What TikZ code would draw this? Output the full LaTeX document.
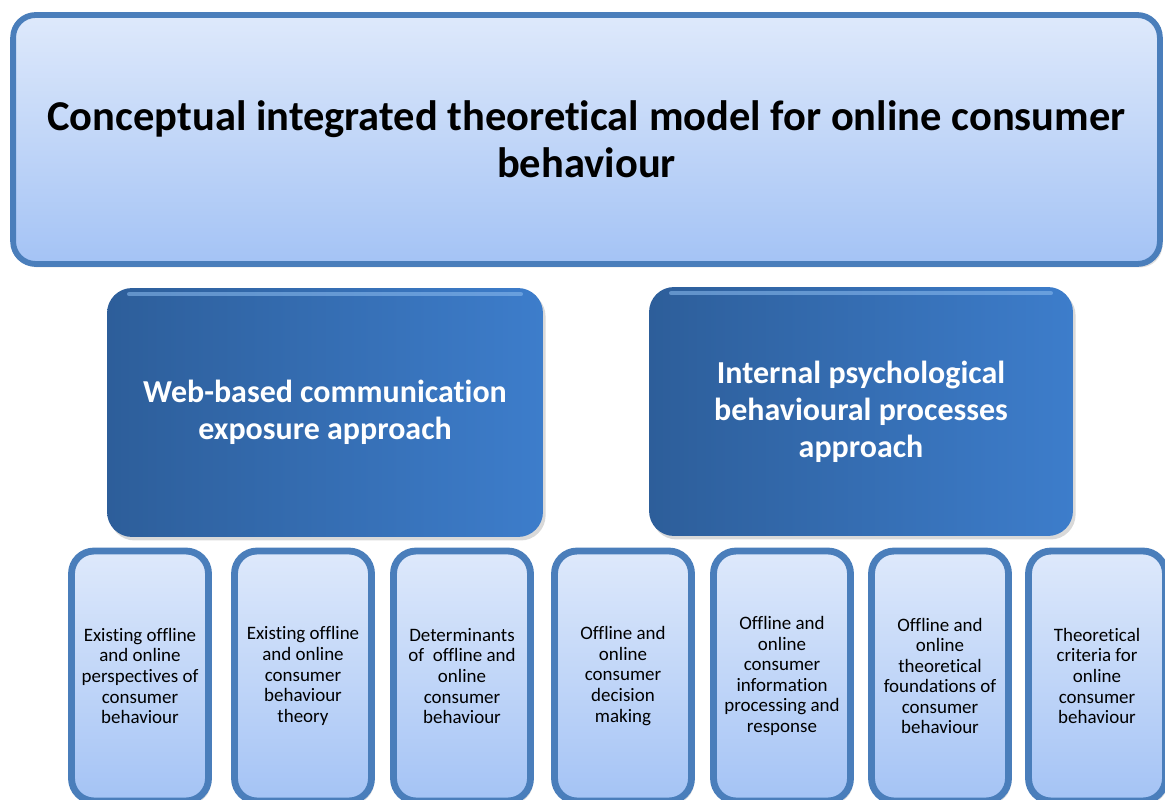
\documentclass[tikz,border=0pt]{standalone}
\usepackage{fontspec}
\setmainfont{Carlito}[Ligatures=NoCommon]
\usetikzlibrary{shadows}
\definecolor{frame}{HTML}{4A7EBB}
\definecolor{paletop}{HTML}{DEE9FB}
\definecolor{palebot}{HTML}{A4C3F5}
\definecolor{deepl}{HTML}{2D5E9A}
\definecolor{deepr}{HTML}{3D7DCB}
\definecolor{shine}{HTML}{8DBDF0}
\tikzset{
  pale/.style={draw=frame, line width=3.9pt, rounded corners=0.45cm, top color=paletop,
    bottom color=palebot, align=center, inner sep=2pt,
    drop shadow={opacity=.25, shadow xshift=1.5pt, shadow yshift=-2pt}},
  deep/.style={rounded corners=0.5cm, left color=deepl, right color=deepr, text=white,
    align=center, font=\fontsize{18.2}{21}\selectfont\bfseries,
    minimum height=4.98cm,
    drop shadow={opacity=.3, shadow xshift=1.5pt, shadow yshift=-2pt}},
  gloss/.style={shine, opacity=.55, line width=2.5pt, line cap=round}
}
\begin{document}
\begin{tikzpicture}[x=0.02cm,y=-0.02cm]
\useasboundingbox (0,0) rectangle (1165,800);
\clip (0,0) rectangle (1165,800);

\node[pale, line width=3.3pt, minimum width=22.94cm, minimum height=4.98cm,
  font=\fontsize{24.2}{26.5}\selectfont\bfseries] (model) at (586.5,139.5)
  {Conceptual integrated theoretical model for online consumer\\behaviour};

\node[deep, minimum width=8.72cm] (web) at (325,412.5)
  {Web-based communication\\exposure approach};
\node[deep, minimum width=8.48cm] (psych) at (861,411.5)
  {Internal psychological\\behavioural processes\\approach};
\foreach \n in {web,psych}
{
    \draw[gloss] ([xshift=0.45cm,yshift=-0.13cm]\n.north west)--([xshift=-0.45cm,yshift=-0.13cm]\n.north east);
}

\foreach \x/\t [count=\i] in {
  68/{Existing offline\\and online\\perspectives of\\consumer\\behaviour},
  231/{Existing offline\\and online\\consumer\\behaviour\\theory},
  390/{Determinants\\of\ \ offline and\\online\\consumer\\behaviour},
  551/{Offline and\\online\\consumer\\decision\\making},
  710/{Offline and\\online\\consumer\\information\\processing and\\response},
  868/{Offline and\\online\\theoretical\\foundations of\\consumer\\behaviour},
  1025/{Theoretical\\criteria for\\online\\consumer\\behaviour}}
{
    \node[pale, minimum width=2.74cm, minimum height=5cm,
      font=\fontsize{10.8}{11.7}\selectfont] (item\i) at (\x+72,676) {\t};
}

\end{tikzpicture}
\end{document}
